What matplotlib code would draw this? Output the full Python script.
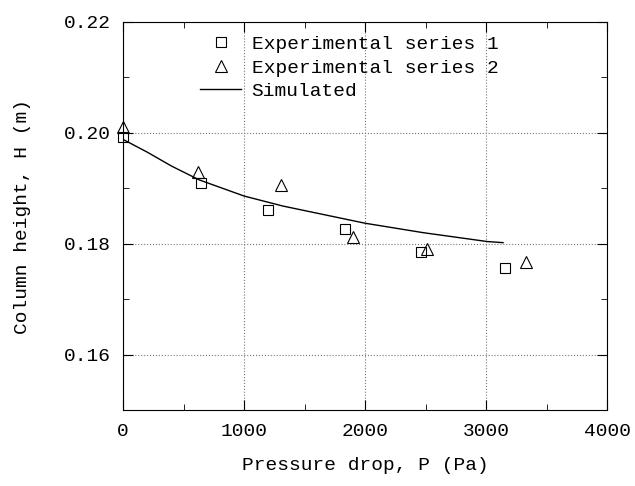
import matplotlib
matplotlib.use('Agg')
from matplotlib import pyplot as plt
from matplotlib.ticker import MultipleLocator

plt.rcParams['font.family'] = 'Liberation Mono'

# experimental points
p_exp1 = [0, 640, 1197, 1833, 2464, 3155]
h_exp1 = [0.1992, 0.1910, 0.1861, 0.1827, 0.1786, 0.1756]

p_exp2 = [0, 621, 1302, 1899, 2508, 3326]
h_exp2 = [0.2011, 0.1930, 0.1906, 0.1812, 0.1791, 0.1767]

# simulated curve
p_sim = [0, 200, 400, 630, 1000, 1320, 2000, 2480, 3010, 3140]
h_sim = [0.1988, 0.1965, 0.1940, 0.1915, 0.1886, 0.1868, 0.1837, 0.1820, 0.1804, 0.1802]

fig = plt.figure(figsize=(6.35, 4.86), dpi=100)
ax = fig.add_axes([0.194, 0.156, 0.762, 0.799])

ax.plot(p_exp1, h_exp1, linestyle='none', marker='s', markersize=7,
        markerfacecolor='none', markeredgecolor='black', markeredgewidth=0.8,
        clip_on=False, label='Experimental series 1')
ax.plot(p_exp2, h_exp2, linestyle='none', marker='^', markersize=8,
        markerfacecolor='none', markeredgecolor='black', markeredgewidth=0.8,
        clip_on=False, label='Experimental series 2')
ax.plot(p_sim, h_sim, color='black', linewidth=1.0, label='Simulated')

ax.set_xlim(0, 4000)
ax.set_ylim(0.15, 0.22)
ax.xaxis.set_major_locator(MultipleLocator(1000))
ax.xaxis.set_minor_locator(MultipleLocator(500))
ax.yaxis.set_major_locator(MultipleLocator(0.02))
ax.yaxis.set_minor_locator(MultipleLocator(0.01))
ax.tick_params(which='both', direction='in', top=True, right=True, labelsize=14, pad=9)
ax.tick_params(which='major', length=7)
ax.tick_params(which='minor', length=4)
ax.grid(True, which='major', linestyle=':', color='#777777', linewidth=0.8)

ax.set_xlabel('Pressure drop, P (Pa)', fontsize=14, va='center')
ax.set_ylabel('Column height, H (m)', fontsize=14, va='center')
ax.xaxis.set_label_coords(0.5, -0.142)
ax.yaxis.set_label_coords(-0.209, 0.5)

ax.legend(loc='upper left', frameon=False, fontsize=14,
          handlelength=2.1, handletextpad=0.55, labelspacing=0.3,
          borderpad=0, borderaxespad=0, bbox_to_anchor=(0.159, 0.965))

plt.savefig('out.png', dpi=100)
plt.close()
